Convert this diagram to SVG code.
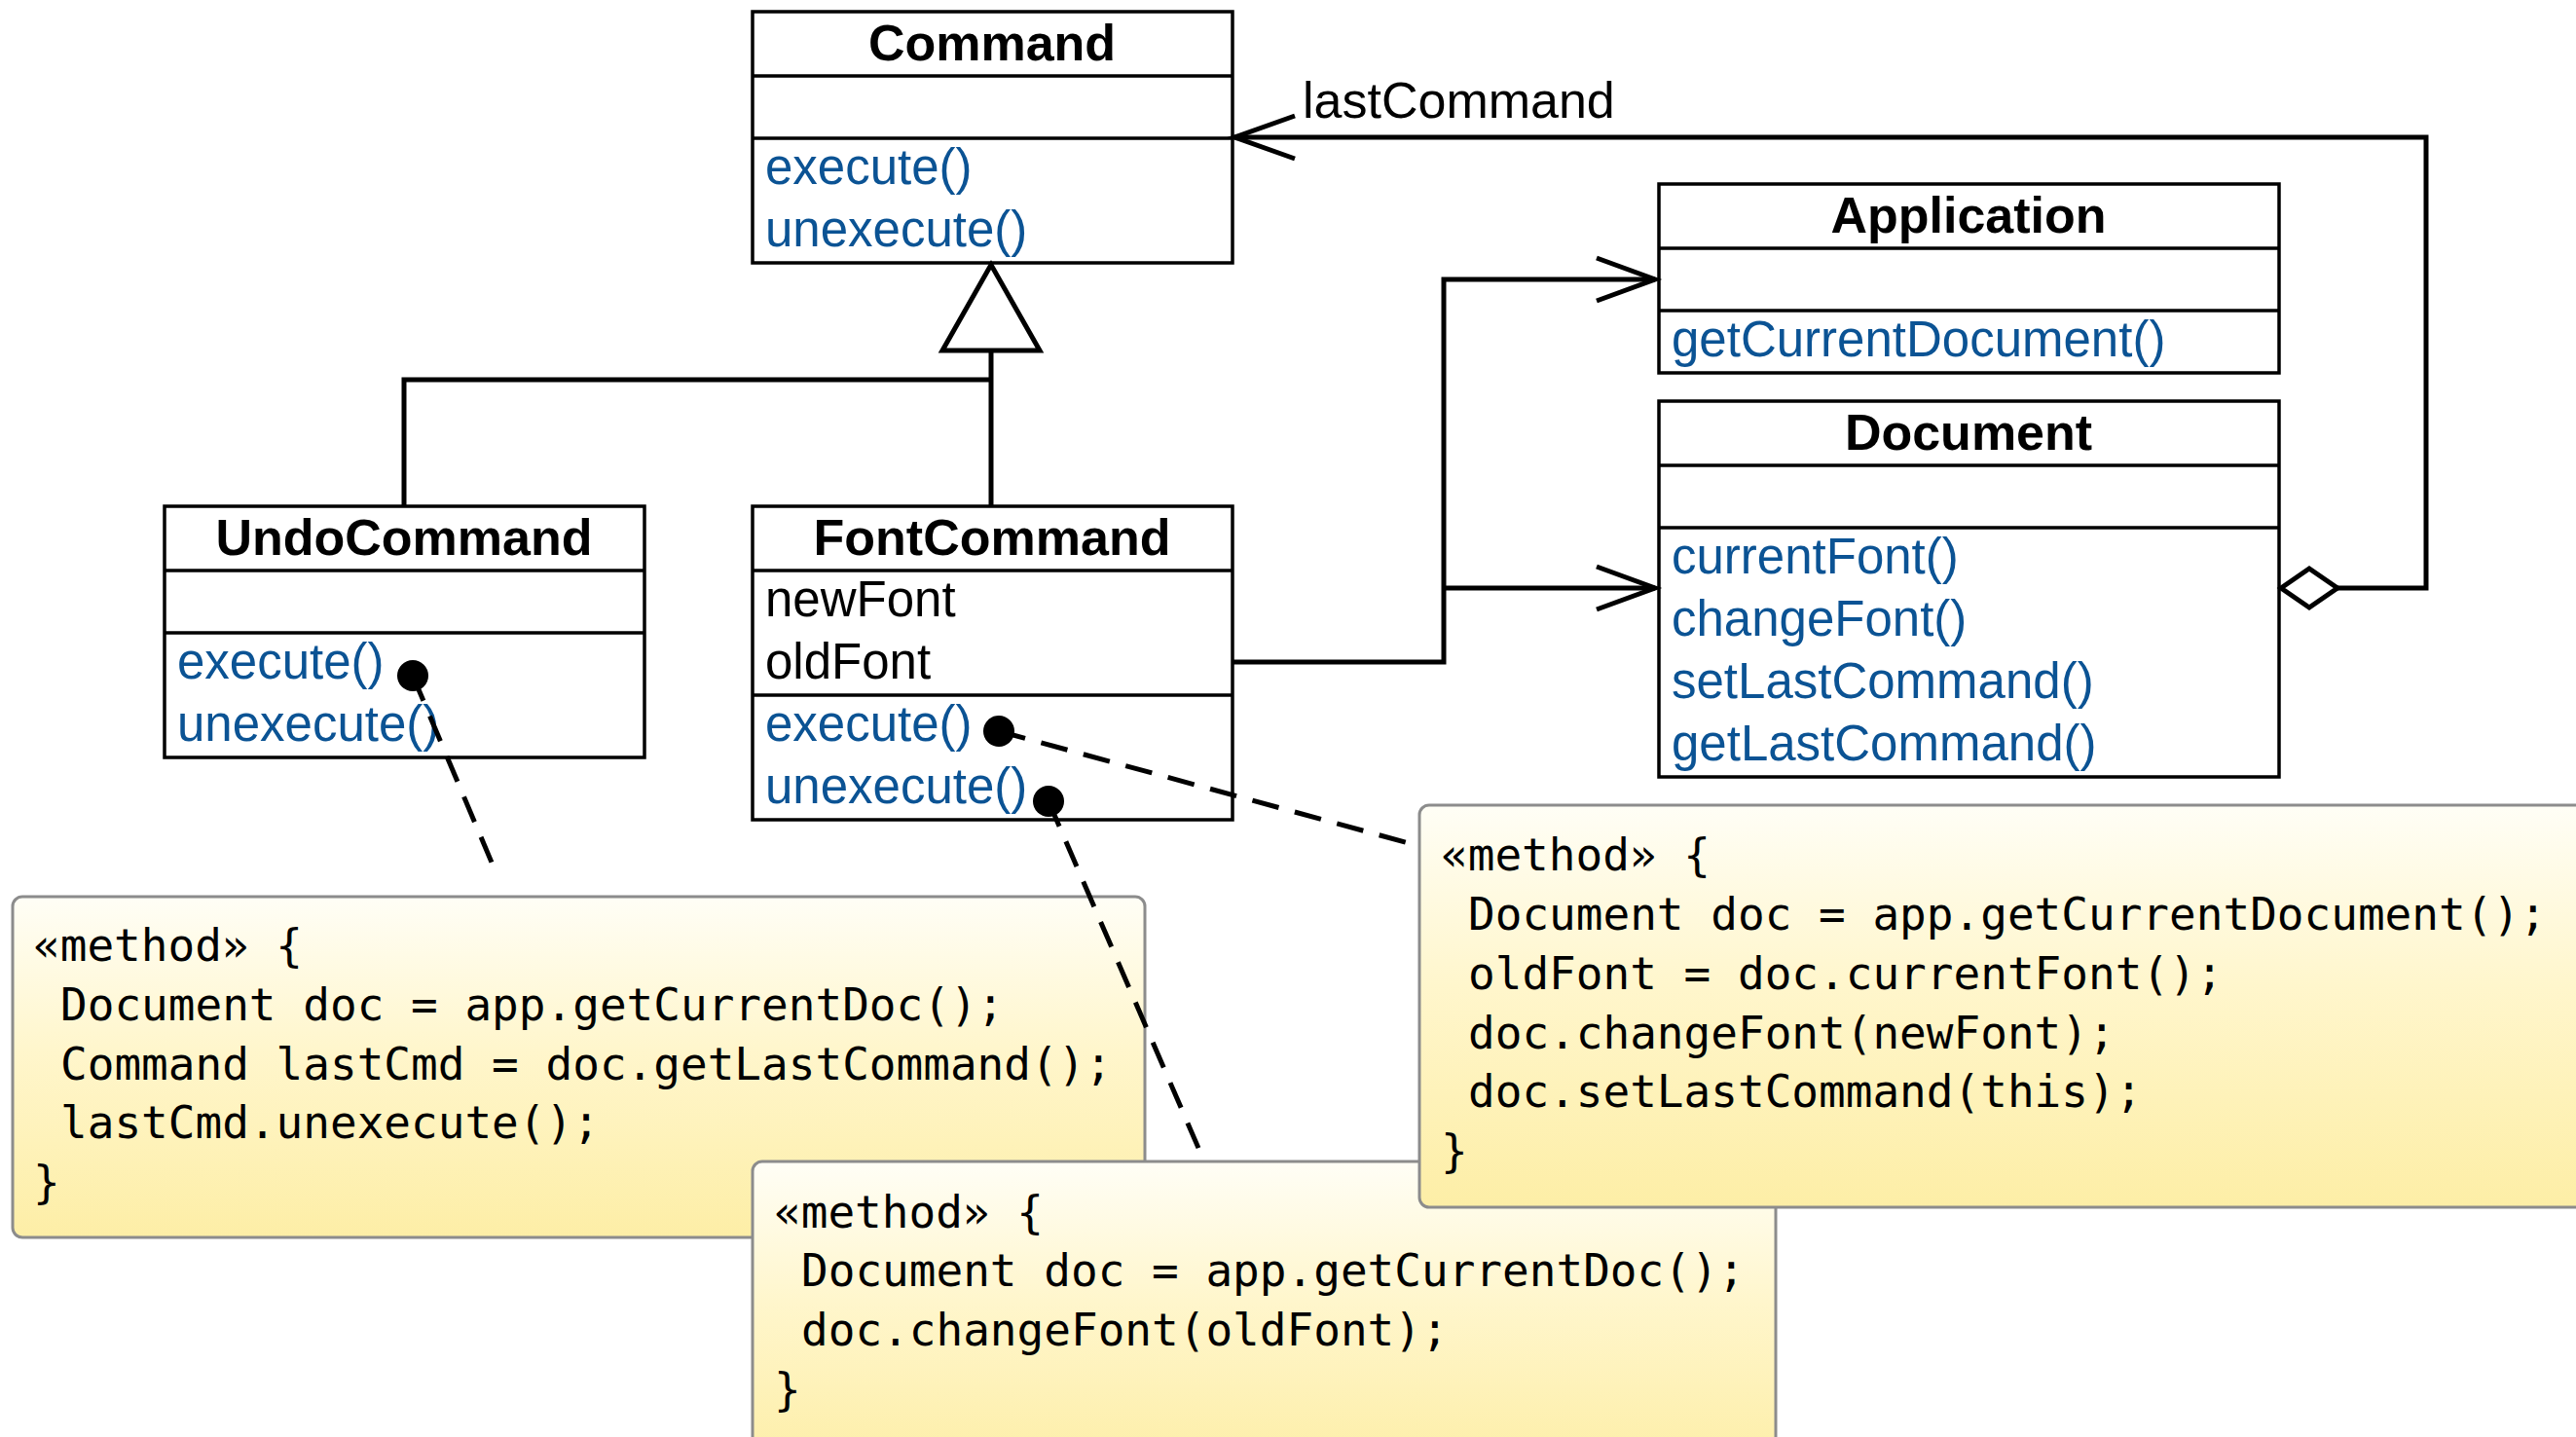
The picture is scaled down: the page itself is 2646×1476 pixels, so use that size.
<svg xmlns="http://www.w3.org/2000/svg" width="2646" height="1476" viewBox="0 0 2646 1476">
<defs>
<linearGradient id="noteGrad" x1="0" y1="0" x2="0" y2="1">
<stop offset="0" stop-color="#fffef6"/>
<stop offset="0.45" stop-color="#fff6cc"/>
<stop offset="1" stop-color="#fdeea6"/>
</linearGradient>
<style>
.box{fill:#fff;stroke:#000;stroke-width:3.5}
.div{stroke:#000;stroke-width:3.5}
.title{font-family:"Liberation Sans",Arial,sans-serif;font-weight:bold;font-size:52px;fill:#000;text-anchor:middle}
.attr{font-family:"Liberation Sans",Arial,sans-serif;font-size:51px;fill:#000}
.meth{font-family:"Liberation Sans",Arial,sans-serif;font-size:51px;fill:#0b5394}
.lbl{font-family:"Liberation Sans",Arial,sans-serif;font-size:52px;fill:#000}
.line{fill:none;stroke:#000;stroke-width:5}
.dash{fill:none;stroke:#000;stroke-width:5;stroke-dasharray:28 17}
.note{fill:url(#noteGrad);stroke:#8c8c8c;stroke-width:3}
.code{font-family:"DejaVu Sans Mono","Liberation Mono",monospace;font-size:46px;fill:#000}
</style>
</defs>
<rect width="2646" height="1476" fill="#fff"/>

<g id="Command">
<rect class="box" x="773" y="12" width="493" height="258"/>
<line class="div" x1="773" y1="78" x2="1266" y2="78"/>
<line class="div" x1="773" y1="142" x2="1266" y2="142"/>
<text class="title" x="1019" y="62">Command</text>
<text class="meth" x="786" y="189">execute()</text>
<text class="meth" x="786" y="253">unexecute()</text>
</g>

<g id="UndoCommand">
<rect class="box" x="169" y="520" width="493" height="258"/>
<line class="div" x1="169" y1="586" x2="662" y2="586"/>
<line class="div" x1="169" y1="650" x2="662" y2="650"/>
<text class="title" x="415" y="570">UndoCommand</text>
<text class="meth" x="182" y="697">execute()</text>
<text class="meth" x="182" y="761">unexecute()</text>
</g>

<g id="FontCommand">
<rect class="box" x="773" y="520" width="493" height="322"/>
<line class="div" x1="773" y1="586" x2="1266" y2="586"/>
<line class="div" x1="773" y1="714" x2="1266" y2="714"/>
<text class="title" x="1019" y="570">FontCommand</text>
<text class="attr" x="786" y="633">newFont</text>
<text class="attr" x="786" y="697">oldFont</text>
<text class="meth" x="786" y="761">execute()</text>
<text class="meth" x="786" y="825">unexecute()</text>
</g>

<g id="Application">
<rect class="box" x="1704" y="189" width="637" height="194"/>
<line class="div" x1="1704" y1="255" x2="2341" y2="255"/>
<line class="div" x1="1704" y1="319" x2="2341" y2="319"/>
<text class="title" x="2022" y="239">Application</text>
<text class="meth" x="1717" y="366">getCurrentDocument()</text>
</g>

<g id="Document">
<rect class="box" x="1704" y="412" width="637" height="386"/>
<line class="div" x1="1704" y1="478" x2="2341" y2="478"/>
<line class="div" x1="1704" y1="542" x2="2341" y2="542"/>
<text class="title" x="2022" y="462">Document</text>
<text class="meth" x="1717" y="589">currentFont()</text>
<text class="meth" x="1717" y="653">changeFont()</text>
<text class="meth" x="1717" y="717">setLastCommand()</text>
<text class="meth" x="1717" y="781">getLastCommand()</text>
</g>

<g id="note-undo-execute">
<rect class="note" x="13" y="921" width="1163" height="350" rx="10"/>
<text class="code" x="34" y="987">«method» {</text>
<text class="code" x="62" y="1048">Document doc = app.getCurrentDoc();</text>
<text class="code" x="62" y="1109">Command lastCmd = doc.getLastCommand();</text>
<text class="code" x="62" y="1169">lastCmd.unexecute();</text>
<text class="code" x="34" y="1230">}</text>
</g>

<g id="note-font-unexecute">
<rect class="note" x="773" y="1193" width="1051" height="320" rx="10"/>
<text class="code" x="795" y="1261">«method» {</text>
<text class="code" x="823" y="1321">Document doc = app.getCurrentDoc();</text>
<text class="code" x="823" y="1382">doc.changeFont(oldFont);</text>
<text class="code" x="795" y="1443">}</text>
</g>

<g id="note-font-execute">
<rect class="note" x="1458" y="827" width="1210" height="413" rx="10"/>
<text class="code" x="1480" y="894">«method» {</text>
<text class="code" x="1508" y="955">Document doc = app.getCurrentDocument();</text>
<text class="code" x="1508" y="1016">oldFont = doc.currentFont();</text>
<text class="code" x="1508" y="1077">doc.changeFont(newFont);</text>
<text class="code" x="1508" y="1137">doc.setLastCommand(this);</text>
<text class="code" x="1480" y="1198">}</text>
</g>

<g id="connectors">
<!-- generalization -->
<polyline class="line" points="1018,360 1018,520"/>
<polyline class="line" points="1018,390 415,390 415,520"/>
<polygon points="1018,272 968,360 1068,360" fill="#fff" stroke="#000" stroke-width="5"/>
<!-- lastCommand aggregation -->
<polyline class="line" points="2401,604 2492,604 2492,141 1268,141"/>
<polyline class="line" points="1330,119 1268,141 1330,163"/>
<polygon points="2343,604 2372,584 2401,604 2372,624" fill="#fff" stroke="#000" stroke-width="5"/>
<text class="lbl" x="1338" y="121">lastCommand</text>
<!-- FontCommand to Application / Document -->
<polyline class="line" points="1266,680 1483,680 1483,287 1700,287"/>
<polyline class="line" points="1640,265 1700,287 1640,309"/>
<polyline class="line" points="1483,604 1700,604"/>
<polyline class="line" points="1640,582 1700,604 1640,626"/>
<!-- note anchors -->
<line class="dash" x1="424" y1="694" x2="511" y2="900"/>
<line class="dash" x1="1026" y1="751" x2="1458" y2="869"/>
<line class="dash" x1="1077" y1="823" x2="1237" y2="1193"/>
<circle cx="424" cy="694" r="16" fill="#000"/>
<circle cx="1026" cy="751" r="16" fill="#000"/>
<circle cx="1077" cy="823" r="16" fill="#000"/>
</g>
</svg>
